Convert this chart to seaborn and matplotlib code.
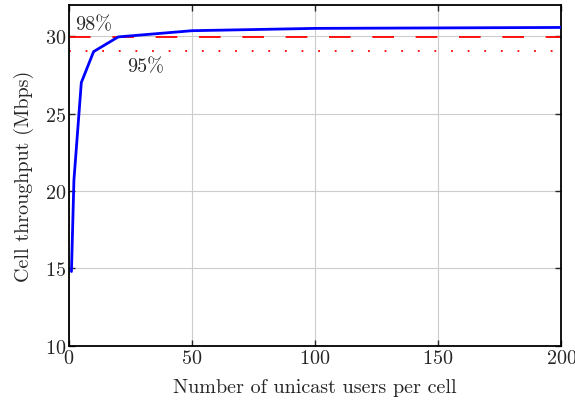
import matplotlib
matplotlib.use("Agg")
import matplotlib.pyplot as plt
import seaborn as sns
import pandas as pd

# Cell throughput versus the number of unicast users per cell
users = [1, 2, 5, 10, 20, 50, 100, 200]
throughput = [14.8, 20.7, 27.0, 29.0, 29.95, 30.35, 30.5, 30.56]
peak = 30.56
levels = {"98%": 0.98, "95%": 0.95}

x_ticks = [0, 50, 100, 150, 200]
y_ticks = [10, 15, 20, 25, 30]

sns.set_style("ticks")
plt.rcParams["font.family"] = ["serif"]
plt.rcParams["font.serif"] = ["cmr10", "DejaVu Serif"]
plt.rcParams["mathtext.fontset"] = "cm"
plt.rcParams["axes.formatter.use_mathtext"] = True

FS = 14.5

df = pd.DataFrame({"users": users, "throughput": throughput})

fig = plt.figure(figsize=(5.75, 4.1), dpi=100)
ax = fig.add_axes([0.12, 0.154, 0.856, 0.831])

ax.grid(True, color="#cccccc", linewidth=0.8)
ax.set_axisbelow(True)

sns.lineplot(data=df, x="users", y="throughput", ax=ax, color="#0000ff",
             linewidth=2.0, zorder=3)

ax.axhline(levels["98%"] * peak, color="#ff0000", linewidth=1.3,
           dashes=(12, 12), zorder=2)
ax.axhline(levels["95%"] * peak, color="#ff0000", linewidth=1.3,
           dashes=(1, 8.2), zorder=2)

ax.text(2.5, 30.75, "98%", fontsize=FS, va="center", ha="left")
ax.text(23.5, 28.05, "95%", fontsize=FS, va="center", ha="left")

ax.set_xlim(0, 200)
ax.set_ylim(10, 32)
ax.set_xticks(x_ticks)
ax.set_yticks(y_ticks)
ax.tick_params(direction="in", top=True, right=True, labelsize=FS,
               length=4, width=1.0, pad=2)
for s in ax.spines.values():
    s.set_linewidth(1.3)
    s.set_color("black")

ax.set_xlabel("Number of unicast users per cell", fontsize=FS, labelpad=8)
ax.set_ylabel("Cell throughput (Mbps)", fontsize=FS, labelpad=8)

fig.savefig("out.png", dpi=100)
